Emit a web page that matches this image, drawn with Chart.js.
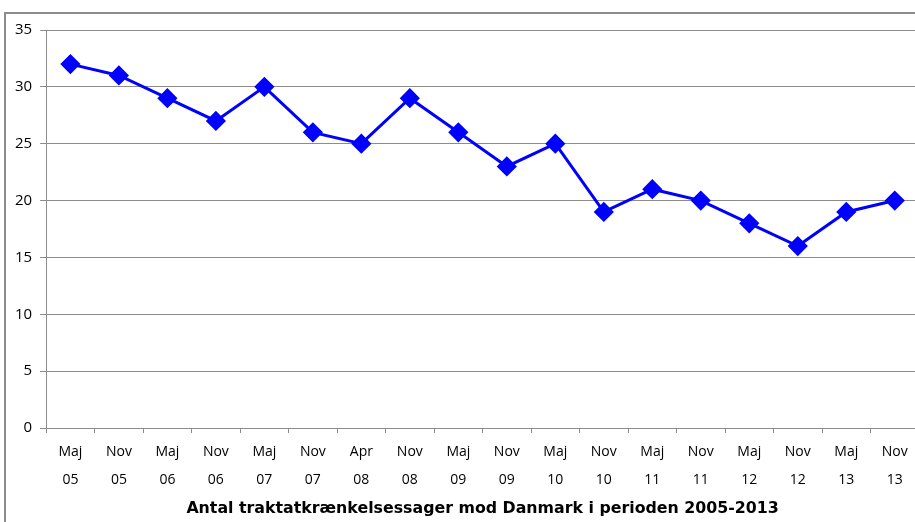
<!DOCTYPE html>
<html><head><meta charset="utf-8">
<script src="https://cdn.jsdelivr.net/npm/chart.js@4/dist/chart.umd.min.js"></script>
<style>
html,body{margin:0;padding:0;background:#fff;overflow:hidden;width:915px;height:522px;}
#frame{position:absolute;left:4px;top:12px;width:930px;height:530px;border-left:2px solid #8c8c8c;border-top:2px solid #8c8c8c;}
#wrap{position:absolute;left:0;top:0;width:930px;height:522px;}
</style></head>
<body>
<div id="frame"></div>
<div id="wrap"><canvas id="c" width="930" height="522"></canvas></div>
<script>
const categories = [["Maj","05"],["Nov","05"],["Maj","06"],["Nov","06"],["Maj","07"],["Nov","07"],["Apr","08"],["Nov","08"],["Maj","09"],["Nov","09"],["Maj","10"],["Nov","10"],["Maj","11"],["Nov","11"],["Maj","12"],["Nov","12"],["Maj","13"],["Nov","13"]];
const cases = [32,31,29,27,30,26,25,29,26,23,25,19,21,20,18,16,19,20];
const yTicks = [0,5,10,15,20,25,30,35];
const axisTitle = "Antal traktatkrænkelsessager mod Danmark i perioden 2005-2013";

new Chart(document.getElementById('c'), {
  type: 'line',
  data: {
    labels: categories,
    datasets: [{
      data: cases,
      borderColor: '#0000ff',
      backgroundColor: '#0000ff',
      borderWidth: 3,
      pointStyle: 'rectRot',
      pointRadius: 8,
      pointHoverRadius: 8,
      tension: 0
    }]
  },
  options: {
    responsive: false,
    animation: false,
    layout: { padding: { left: 7, top: 30, right: 0, bottom: 3 } },
    plugins: { legend: { display: false }, tooltip: { enabled: false } },
    scales: {
      x: {
        offset: true,
        grid: { offset: true, drawOnChartArea: false, drawTicks: true, tickLength: 5, color: '#8c8c8c' },
        border: { color: '#8c8c8c', width: 1 },
        ticks: { color: '#000', font: { family: 'Open Sans', size: 14, lineHeight: 1.93 }, maxRotation: 0, autoSkip: false, padding: 6 },
        title: { display: true, text: axisTitle, color: '#000', font: { family: 'DejaVu Sans', size: 15.8, weight: 'bold', lineHeight: 1.2 }, padding: { top: 0, bottom: 1 } }
      },
      y: {
        min: 0, max: 35,
        afterBuildTicks: (ax) => { ax.ticks = yTicks.map(v => ({ value: v })); },
        grid: { color: '#8c8c8c', tickLength: 6, lineWidth: 1 },
        border: { color: '#8c8c8c' },
        ticks: { color: '#000', font: { family: 'Open Sans', size: 15 }, padding: 8 }
      }
    }
  }
});
</script>
</body></html>
